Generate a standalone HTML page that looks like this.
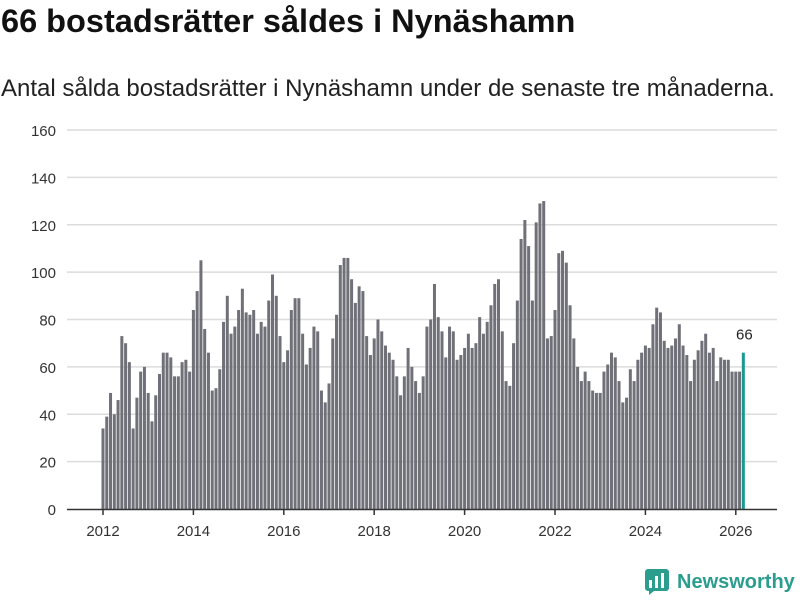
<!DOCTYPE html>
<html><head><meta charset="utf-8"><style>
body{margin:0;width:800px;height:600px;background:#fff;font-family:"Liberation Sans","DejaVu Sans",sans-serif;overflow:hidden}
#title{position:absolute;left:1px;top:3px;font-size:32.5px;font-weight:bold;color:#111;margin:0;white-space:nowrap}
#sub{position:absolute;left:1px;top:75px;font-size:24px;color:#222;white-space:nowrap}
svg{position:absolute;left:0;top:0}
#logo{position:absolute;left:645px;top:569px;display:flex;align-items:center;font-size:20px;font-weight:bold;color:#2a9d8f}
</style></head><body>
<h1 id="title">66 bostadsrätter såldes i Nynäshamn</h1>
<div id="sub">Antal sålda bostadsrätter i Nynäshamn under de senaste tre månaderna.</div>
<svg id="chart" width="800" height="600"></svg>
<div id="logo"><svg width="24" height="26" style="position:static;margin-right:8px"><rect x="0" y="0" width="24" height="22" rx="3" fill="#2a9d8f"/><rect x="4" y="11" width="3" height="8" fill="#fff"/><rect x="10" y="7" width="3" height="12" fill="#fff"/><rect x="16" y="4" width="3" height="15" fill="#fff"/><path d="M4 22 L4 26 L9 22Z" fill="#2a9d8f"/></svg>Newsworthy</div>
<script>
const startYear = 2012;
const values = [34,39,49,40,46,73,70,62,34,47,58,60,
49,37,48,57,66,66,64,56,56,62,63,58,
84,92,105,76,66,50,51,59,79,90,74,77,
84,93,83,82,84,74,79,77,88,99,90,73,
62,67,84,89,89,74,61,68,77,75,50,45,
53,72,82,103,106,106,97,87,94,92,73,65,
72,80,75,69,66,63,56,48,56,68,60,54,
49,56,77,80,95,81,75,64,77,75,63,65,
68,74,68,70,81,74,79,86,95,97,75,54,
52,70,88,114,122,111,88,121,129,130,72,73,
84,108,109,104,86,72,60,54,58,54,50,49,
49,58,61,66,64,54,45,47,59,54,63,66,
69,68,78,85,83,71,68,69,72,78,69,65,
54,63,67,71,74,66,68,54,64,63,63,58,
58,58,66];
const yTicks = [0,20,40,60,80,100,120,140,160];
const xTicks = [2012,2014,2016,2018,2020,2022,2024,2026];
const NS="http://www.w3.org/2000/svg";
const svg=document.getElementById('chart');
const y=v=>509-v*(379/160);
const x=m=>103+(m/12)*45.2;
function mk(t,a){const e=document.createElementNS(NS,t);for(const k in a)e.setAttribute(k,a[k]);svg.appendChild(e);return e;}
yTicks.forEach(t=>{
  if(t>0){const l=mk('line',{x1:67,x2:777,y1:y(t),y2:y(t),stroke:'#dcdcdc','stroke-width':1.5});
  
  }
  const tx=mk('text',{x:56,y:y(t)+6,'text-anchor':'end','font-size':15,fill:'#333'});
  tx.textContent=t;
  
  
});
values.forEach((v,i)=>{
  const last=i===values.length-1;
  const r=mk('rect',{x:x(i)-1.5,y:y(v),width:3,height:509-y(v),fill:last?'#1a9a8f':'#707078'});
  
  
  if(last){const t=mk('text',{x:x(i)+1,y:y(v)-13,'text-anchor':'middle','font-size':15,fill:'#222'});t.textContent=v;
  
  }
});
const ax=mk('line',{x1:67,x2:777,y1:509.5,y2:509.5,stroke:'#333','stroke-width':1.5});


xTicks.forEach(yr=>{
  const m=(yr-startYear)*12;
  const tk=mk('line',{x1:x(m),x2:x(m),y1:509,y2:515,stroke:'#333','stroke-width':1.5});
  
  
  const t=mk('text',{x:x(m),y:536,'text-anchor':'middle','font-size':15,fill:'#333'});
  t.textContent=yr;
  
  
});
</script>
</body></html>
